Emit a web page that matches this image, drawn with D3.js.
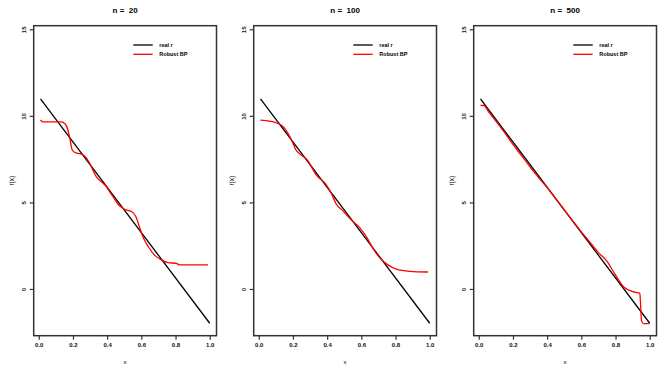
<!DOCTYPE html>
<html>
<head>
<meta charset="utf-8">
<title>Robust BP</title>
<script src="https://d3js.org/d3.v7.min.js"></script>
<style>
  body { margin: 0; background: #fff; }
  text { font-family: "Liberation Sans", Arial, sans-serif; white-space: pre; }
</style>
</head>
<body>
<div id="chart"></div>
<script>
/* global d3 */

const titles = ['n =  20', 'n =  100', 'n =  500'];
const xTicks = [0, 0.2, 0.4, 0.6, 0.8, 1.0];
const yTicks = [0, 5, 10, 15];
const legendLabels = ['real r', 'Robust BP'];

// true regression line (straight)
const realX = [0.01, 1.0];
const realY = [10.98, -1.98];

// robust BP fits
const bp20X = [0.01, 0.024, 0.07, 0.13, 0.155, 0.17, 0.18, 0.196, 0.215, 0.245, 0.268, 0.293, 0.315, 0.336, 0.365, 0.395, 0.418, 0.44, 0.463, 0.502, 0.541, 0.57, 0.59, 0.609, 0.643, 0.682, 0.717, 0.756, 0.805, 0.824, 0.9, 0.99];
const bp20Y = [9.76, 9.65, 9.65, 9.65, 9.53, 9.2, 8.8, 8.03, 7.87, 7.8, 7.68, 7.35, 6.9, 6.49, 6.2, 5.91, 5.56, 5.25, 4.91, 4.6, 4.49, 4.14, 3.55, 3.02, 2.41, 1.91, 1.68, 1.52, 1.48, 1.39, 1.39, 1.39];

const bp100X = [0.01, 0.063, 0.131, 0.17, 0.2, 0.215, 0.248, 0.281, 0.336, 0.395, 0.424, 0.453, 0.492, 0.541, 0.59, 0.629, 0.668, 0.707, 0.756, 0.805, 0.883, 0.99];
const bp100Y = [9.76, 9.7, 9.47, 9.0, 8.42, 8.07, 7.74, 7.49, 6.59, 6.01, 5.53, 4.91, 4.51, 3.99, 3.54, 3.02, 2.35, 1.81, 1.39, 1.14, 1.02, 0.98];

const bp500X = [0.01, 0.03, 0.06, 0.1, 0.15, 0.2, 0.25, 0.3, 0.35, 0.4, 0.5, 0.6, 0.65, 0.7, 0.75, 0.8, 0.85, 0.9, 0.93, 0.942, 0.947, 0.952, 0.965, 0.996];
const bp500Y = [10.61, 10.6, 10.2, 9.7, 9.05, 8.35, 7.7, 7.05, 6.43, 5.85, 4.57, 3.3, 2.7, 2.1, 1.6, 0.8, 0.1, -0.15, -0.22, -0.25, -1.0, -1.85, -2.0, -2.0];

const fitsX = [bp20X, bp100X, bp500X];
const fitsY = [bp20Y, bp100Y, bp500Y];

const W = 670, H = 371;
const panelStep = 220;
const margin = { left: 33.7, top: 25.7 };
const boxW = 182.8, boxH = 310;

const svg = d3.select('#chart')
  .append('svg')
    .attr('width', W)
    .attr('height', H);

titles.forEach((t, i) => {
  const g = svg.append('g')
    .attr('transform', `translate(${margin.left + i * panelStep}, ${margin.top})`);

  const x = d3.scaleLinear().domain([-0.0296, 1.0396]).range([0, boxW]);
  const y = d3.scaleLinear().domain([-2.70, 15.21]).range([boxH, 0]);

  // box
  g.append('rect')
    .attr('width', boxW)
    .attr('height', boxH)
    .attr('fill', 'none')
    .attr('stroke', '#333')
    .attr('stroke-width', 1.5);

  // x axis
  const xa = g.append('g')
    .attr('transform', `translate(0, ${boxH})`)
    .call(d3.axisBottom(x).tickValues(xTicks).tickFormat(d3.format('.1f')).tickSize(4).tickPadding(3));
  xa.select('.domain').remove();
  xa.selectAll('line').attr('stroke', '#333').attr('stroke-width', 1.2);
  xa.selectAll('text').style('font-size', '6px').style('font-weight', 'bold').attr('fill', '#111');

  // y axis with rotated labels
  const ya = g.append('g')
    .call(d3.axisLeft(y).tickValues(yTicks).tickSize(4).tickPadding(3));
  ya.select('.domain').remove();
  ya.selectAll('line').attr('stroke', '#333').attr('stroke-width', 1.2);
  ya.selectAll('text')
    .style('font-size', '6px')
    .style('font-weight', 'bold')
    .attr('fill', '#111')
    .attr('x', null)
    .attr('dy', null)
    .attr('text-anchor', 'middle')
    .attr('transform', 'translate(-8, 0) rotate(-90)');

  // titles
  g.append('text')
    .attr('x', boxW / 2)
    .attr('y', -13)
    .attr('text-anchor', 'middle')
    .style('font-size', '8px')
    .style('font-weight', 'bold')
    .text(t);

  g.append('text')
    .attr('x', boxW / 2)
    .attr('y', boxH + 28)
    .attr('text-anchor', 'middle')
    .style('font-size', '6px')
    .text('x');

  g.append('text')
    .attr('transform', `translate(-20, ${boxH / 2}) rotate(-90)`)
    .attr('text-anchor', 'middle')
    .style('font-size', '6.5px')
    .text('r(x)');

  // lines
  const line = d3.line()
    .x(d => x(d[0]))
    .y(d => y(d[1]));

  g.append('path')
    .datum(realX.map((v, k) => [v, realY[k]]))
    .attr('d', line)
    .attr('fill', 'none')
    .attr('stroke', '#000')
    .attr('stroke-width', 1.3);

  g.append('path')
    .datum(fitsX[i].map((v, k) => [v, fitsY[i][k]]))
    .attr('d', line.curve(d3.curveMonotoneX))
    .attr('fill', 'none')
    .attr('stroke', '#ff0000')
    .attr('stroke-width', 1.3);

  // legend
  const lg = g.append('g').attr('transform', 'translate(99.6, 19.3)');
  legendLabels.forEach((lab, k) => {
    lg.append('line')
      .attr('x1', 0).attr('x2', 19.4)
      .attr('y1', k * 9.3).attr('y2', k * 9.3)
      .attr('stroke', k === 0 ? '#000' : '#ff0000')
      .attr('stroke-width', 1.3);
    lg.append('text')
      .attr('x', 26)
      .attr('y', k * 9.3)
      .attr('dy', '0.35em')
      .style('font-size', '5.5px')
      .style('font-weight', 'bold')
      .text(lab);
  });
});
</script>
</body>
</html>
